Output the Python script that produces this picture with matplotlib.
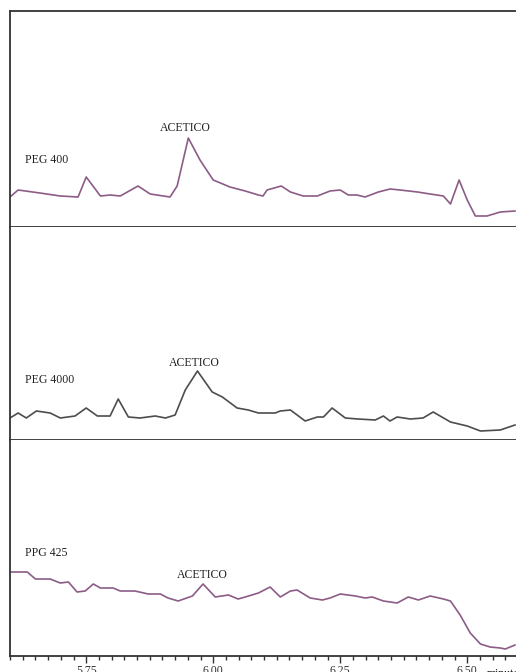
import matplotlib
matplotlib.use('Agg')
import matplotlib.pyplot as plt
from matplotlib.ticker import MultipleLocator
import matplotlib.transforms as mtransforms

plt.rcParams['font.family'] = ['Liberation Serif', 'DejaVu Serif']

# retention time (minutes) and detector signal (arbitrary units) per sample
t_peg400 = [5.600, 5.616, 5.659, 5.699, 5.734, 5.750, 5.778, 5.797, 5.817, 5.852,
            5.876, 5.915, 5.929, 5.951, 5.974, 6.000, 6.033, 6.063, 6.089, 6.098,
            6.106, 6.134, 6.152, 6.177, 6.205, 6.230, 6.250, 6.266, 6.283, 6.299,
            6.325, 6.348, 6.368, 6.402, 6.427, 6.453, 6.467, 6.484, 6.500, 6.516,
            6.539, 6.565, 6.594]
s_peg400 = [30, 37, 34, 31, 30, 50, 31, 32, 31, 41,
            33, 30, 41, 89, 67, 47, 40, 36, 32, 31,
            37, 41, 35, 31, 31, 36, 37, 32, 32, 30,
            35, 38, 37, 35, 33, 31, 23, 47, 27, 11,
            11, 15, 16]

t_peg4000 = [5.600, 5.616, 5.632, 5.652, 5.679, 5.699, 5.728, 5.750, 5.772, 5.797,
             5.813, 5.833, 5.856, 5.886, 5.906, 5.925, 5.945, 5.969, 5.998, 6.018,
             6.047, 6.069, 6.089, 6.122, 6.132, 6.152, 6.181, 6.205, 6.217, 6.234,
             6.260, 6.285, 6.319, 6.335, 6.348, 6.362, 6.388, 6.413, 6.433, 6.467,
             6.500, 6.526, 6.565, 6.594]
s_peg4000 = [22, 27, 22, 29, 27, 22, 24, 32, 24, 24,
             41, 23, 22, 24, 22, 25, 50, 69, 48, 43,
             32, 30, 27, 27, 29, 30, 19, 23, 23, 32,
             22, 21, 20, 24, 19, 23, 21, 22, 28, 18,
             14, 9, 10, 15]

t_ppg425 = [5.600, 5.634, 5.650, 5.679, 5.699, 5.715, 5.732, 5.748, 5.764, 5.778,
            5.803, 5.817, 5.846, 5.872, 5.896, 5.911, 5.931, 5.959, 5.980, 6.004,
            6.030, 6.049, 6.063, 6.089, 6.112, 6.132, 6.152, 6.165, 6.191, 6.215,
            6.230, 6.250, 6.280, 6.299, 6.313, 6.335, 6.362, 6.384, 6.404, 6.427,
            6.453, 6.467, 6.486, 6.506, 6.526, 6.545, 6.565, 6.575, 6.594]
s_ppg425 = [84, 84, 77, 77, 73, 74, 64, 65, 72, 68,
            68, 65, 65, 62, 62, 58, 55, 60, 72, 59,
            61, 57, 59, 63, 69, 59, 65, 66, 58, 56,
            58, 62, 60, 58, 59, 55, 53, 59, 56, 60,
            57, 55, 41, 23, 12, 9, 8, 7, 11]

samples = ['PEG 400', 'PEG 4000', 'PPG 425']
peak_label = 'ACETICO'
# where the labels sit (time, signal)
sample_pos = [(5.630, 67), (5.630, 60), (5.630, 103)]
peak_pos = [(5.945, 99), (5.963, 77), (5.978, 81)]
tick_labels = ['5.75', '6.00', '6.25', '6.50']

colors = ['#8c5c86', '#4d4d4d', '#8c5c86']
series = [(t_peg400, s_peg400), (t_peg4000, s_peg4000), (t_ppg425, s_ppg425)]
# panel top / bottom in pixels, figure is 672 tall
bounds = [(11, 227), (227, 440), (440, 656)]

fig = plt.figure(figsize=(5.16, 6.72), dpi=100)
H = 672.0
axes = []
for i, ((t, s), (top, bot)) in enumerate(zip(series, bounds)):
    ax = fig.add_axes([10 / 516, 1 - bot / H, 1 - 10 / 516, (bot - top) / H])
    ax.plot(t, s, color=colors[i], lw=1.2)
    ax.set_xlim(5.60, 6.596)
    ax.set_ylim(0, bot - top)
    ax.spines['right'].set_visible(False)
    ax.spines['top'].set_visible(i == 0)
    for sp in ['left', 'bottom', 'top']:
        ax.spines[sp].set_color('#333333')
        ax.spines[sp].set_linewidth(1.3)
    ax.set_yticks([])
    ax.text(sample_pos[i][0], sample_pos[i][1], samples[i], fontsize=8.5,
            va='center', color='#222222')
    ax.text(peak_pos[i][0], peak_pos[i][1], peak_label, fontsize=8.5,
            ha='center', va='center', color='#222222')
    if i < 2:
        ax.set_xticks([])
    axes.append(ax)

ax = axes[-1]
ax.set_xticks([5.75, 6.00, 6.25, 6.50])
ax.set_xticklabels(tick_labels)
ax.xaxis.set_minor_locator(MultipleLocator(0.025))
ax.tick_params(axis='x', which='major', direction='out', length=5, width=1,
               labelsize=8.5, pad=1.5, colors='#333333')
ax.tick_params(axis='x', which='minor', direction='out', length=3, width=1,
               colors='#333333')
trans = mtransforms.blended_transform_factory(ax.transData, ax.transAxes)
ax.text(6.539, -0.055, 'minutes', transform=trans, fontsize=8.5,
        color='#222222', va='top', clip_on=False)

plt.savefig('out.png', dpi=100)
